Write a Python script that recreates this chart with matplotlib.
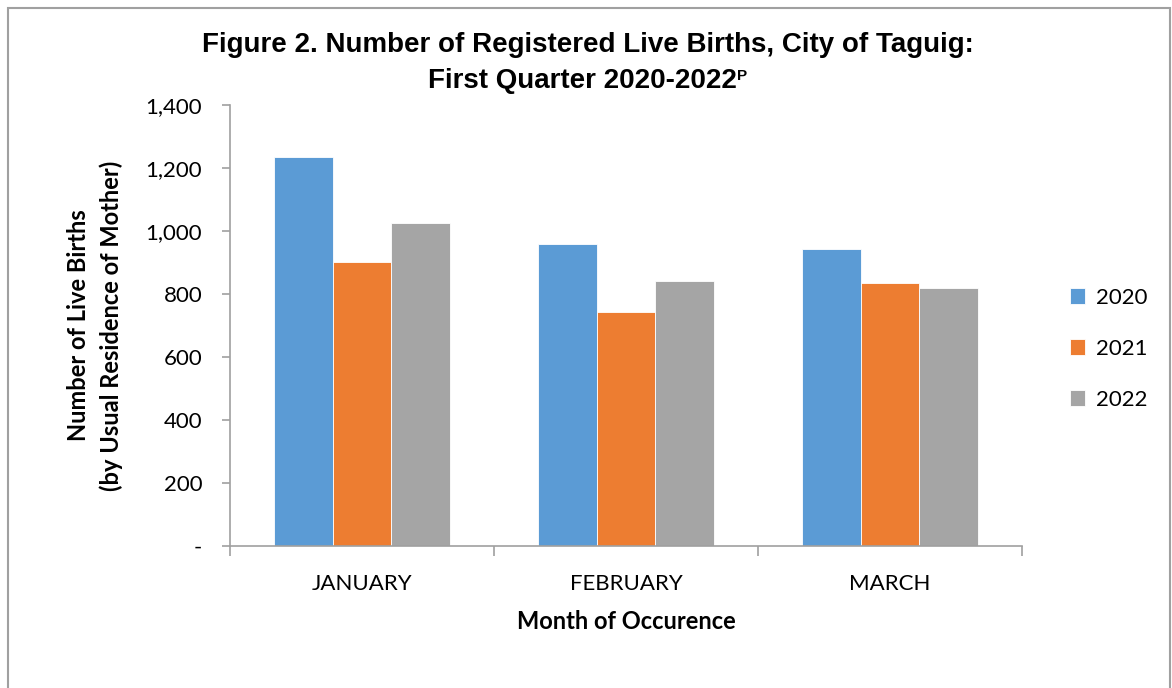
import numpy as np
import matplotlib.pyplot as plt
from matplotlib.patches import Rectangle
from matplotlib.ticker import FuncFormatter

# Data
months = ['JANUARY', 'FEBRUARY', 'MARCH']
years = ['2020', '2021', '2022']
births_2020 = [1236, 960, 942]
births_2021 = [901, 743, 835]
births_2022 = [1025, 840, 818]

colors = ['#5B9BD5', '#ED7D31', '#A5A5A5']
body_font = ['Lato', 'DejaVu Sans']
title_font = ['Liberation Sans', 'DejaVu Sans']

fig = plt.figure(figsize=(11.72, 6.88), dpi=100)
ax = fig.add_axes([0.1962, 0.2064, 0.872 - 0.1962, 0.8474 - 0.2064])

# Outer frame of the chart
fig.patches.append(Rectangle((8 / 1172, -0.1), (1170 - 8) / 1172, 1.1 - 8 / 688,
                             transform=fig.transFigure, fill=False,
                             edgecolor='#A0A0A0', linewidth=1.5))

x = np.arange(len(months))
width = 0.222
series = [births_2020, births_2021, births_2022]
for i, vals in enumerate(series):
    ax.bar(x + (i - 1) * width, vals, width, color=colors[i], label=years[i],
           edgecolor='white', linewidth=0.6)

ax.set_xlim(-0.5, 2.5)
ax.set_ylim(0, 1400)
ax.set_yticks(np.arange(0, 1401, 200))
ax.yaxis.set_major_formatter(FuncFormatter(lambda v, p: '-' if v == 0 else f'{int(v):,}'))

ax.set_xticks(x)
ax.set_xticklabels(months)
ax.set_xticks([-0.5, 0.5, 1.5, 2.5], minor=True)
ax.tick_params(axis='x', which='major', length=0, pad=20)
ax.tick_params(axis='x', which='minor', length=7, color='#A0A0A0', width=1.2)
ax.tick_params(axis='y', length=6, color='#A0A0A0', width=1.2, pad=14)

for lbl in ax.get_xticklabels() + ax.get_yticklabels():
    lbl.set_family(body_font)
    lbl.set_fontsize(16)

for side in ['top', 'right']:
    ax.spines[side].set_visible(False)
for side in ['left', 'bottom']:
    ax.spines[side].set_color('#A0A0A0')
    ax.spines[side].set_linewidth(1.2)

ax.set_xlabel('Month of Occurence', family=body_font, fontsize=17,
              fontweight='bold', labelpad=12)
ax.set_ylabel('Number of Live Births\n(by Usual Residence of Mother)',
              family=body_font, fontsize=17, fontweight='bold', labelpad=16,
              linespacing=1.5)

fig.text(0.502, 1 - 45 / 688, 'Figure 2. Number of Registered Live Births, City of Taguig:',
         ha='center', va='center', family=title_font, fontsize=20, fontweight='bold')
t2 = fig.text(0.497, 1 - 81 / 688, 'First Quarter 2020-2022',
              ha='center', va='center', family=title_font, fontsize=20, fontweight='bold')
# small superscript "P" (preliminary) placed right after the second title line
ax.annotate('P', xy=(1.0, 0.97), xycoords=t2, ha='left', va='top',
            family=title_font, fontsize=11, fontweight='bold', annotation_clip=False)

leg = ax.legend(loc='center left', bbox_to_anchor=(1.035, 0.447), frameon=False,
                prop={'family': body_font, 'size': 16}, handlelength=0.7,
                handleheight=0.7, handletextpad=0.5, labelspacing=1.4)

fig.savefig('out.png', dpi=100)
